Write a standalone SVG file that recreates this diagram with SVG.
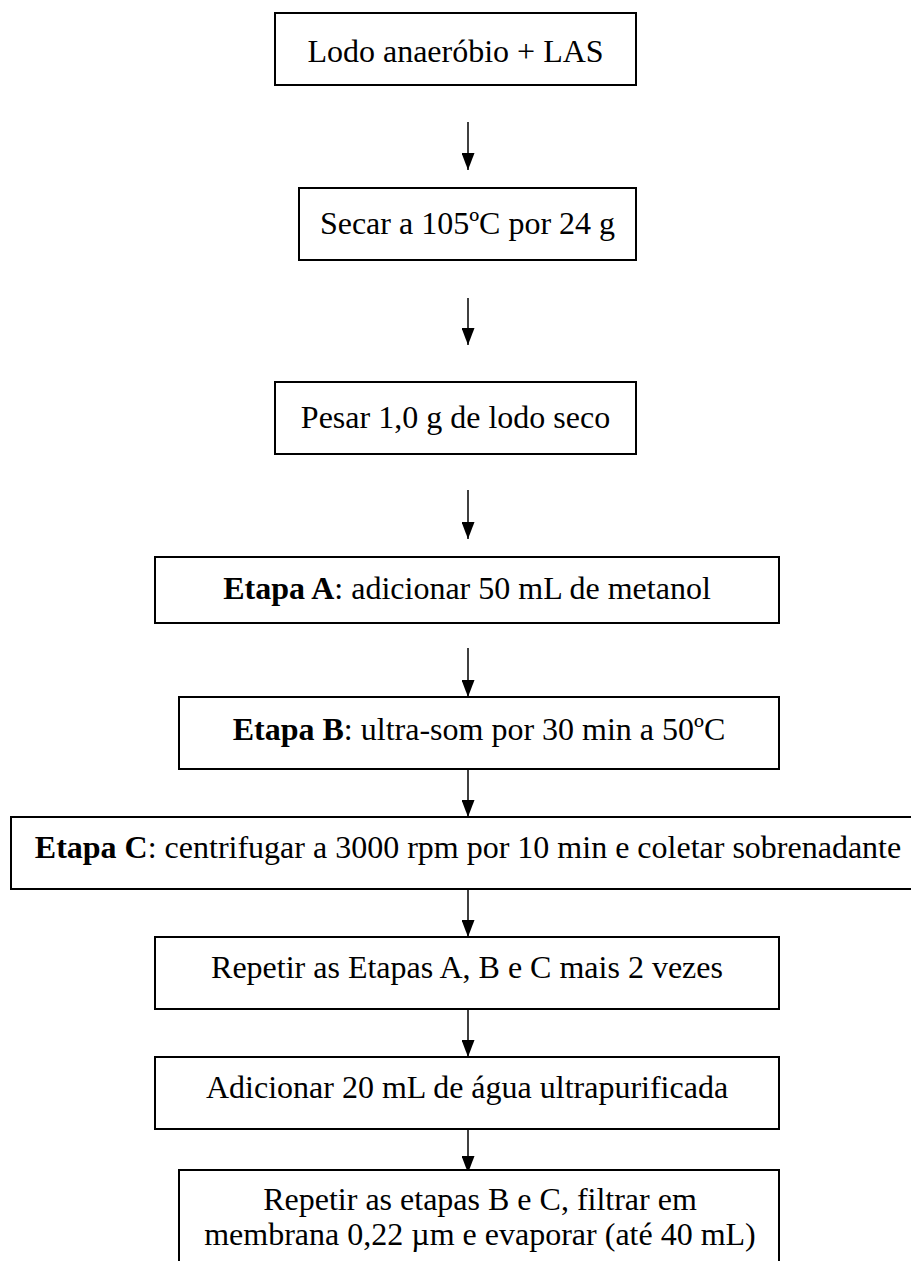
<svg xmlns="http://www.w3.org/2000/svg" width="911" height="1261" viewBox="0 0 911 1261">
  <style>
    .box { fill: #ffffff; stroke: #000000; stroke-width: 2; }
    .lbl { font-family: "Liberation Serif", "Times New Roman", serif; font-size: 32px; fill: #000000; text-anchor: middle; }
    .b { font-weight: bold; }
    .edge { stroke: #000000; stroke-width: 1.5; fill: none; marker-end: url(#head); }
  </style>
  <defs>
    <!-- solid triangular arrowhead, 13 wide and 17 long -->
    <marker id="head" markerUnits="userSpaceOnUse" markerWidth="17" markerHeight="13" viewBox="0 0 17 13" refX="17" refY="6.5" orient="auto">
      <path d="M0,0 L17,6.5 L0,13 Z" fill="#000000"/>
    </marker>
  </defs>
  <rect width="911" height="1261" fill="#ffffff"/>

  <!-- vertical flow connectors -->
  <g id="connectors">
    <line class="edge" x1="468" y1="122" x2="468" y2="170"/>
    <line class="edge" x1="468" y1="298" x2="468" y2="345"/>
    <line class="edge" x1="468" y1="490" x2="468" y2="539"/>
    <line class="edge" x1="468" y1="648" x2="468" y2="697"/>
    <line class="edge" x1="468" y1="769" x2="468" y2="817"/>
    <line class="edge" x1="468" y1="889" x2="468" y2="937"/>
    <line class="edge" x1="468" y1="1009" x2="468" y2="1057"/>
    <line class="edge" x1="468" y1="1129" x2="468" y2="1173"/>
  </g>

  <g id="n1">
    <rect class="box" x="275" y="13" width="361" height="72"/>
    <text class="lbl" x="455.5" y="62">Lodo anaeróbio + LAS</text>
  </g>
  <g id="n2">
    <rect class="box" x="299" y="188" width="337" height="72"/>
    <text class="lbl" x="467.5" y="234">Secar a 105ºC por 24 g</text>
  </g>
  <g id="n3">
    <rect class="box" x="275" y="382" width="361" height="72"/>
    <text class="lbl" x="455.5" y="428">Pesar 1,0 g de lodo seco</text>
  </g>
  <g id="n4">
    <rect class="box" x="155" y="557" width="624" height="66"/>
    <text class="lbl" x="467" y="599"><tspan class="b">Etapa A</tspan>: adicionar 50 mL de metanol</text>
  </g>
  <g id="n5">
    <rect class="box" x="179" y="697" width="600" height="72"/>
    <text class="lbl" x="479" y="740"><tspan class="b">Etapa B</tspan>: ultra-som por 30 min a 50ºC</text>
  </g>
  <g id="n6">
    <rect class="box" x="11" y="817" width="914" height="72"/>
    <text class="lbl" x="468" y="858"><tspan class="b">Etapa C</tspan>: centrifugar a 3000 rpm por 10 min e coletar sobrenadante</text>
  </g>
  <g id="n7">
    <rect class="box" x="155" y="937" width="624" height="72"/>
    <text class="lbl" x="467" y="978">Repetir as Etapas A, B e C mais 2 vezes</text>
  </g>
  <g id="n8">
    <rect class="box" x="155" y="1057" width="624" height="72"/>
    <text class="lbl" x="467" y="1098">Adicionar 20 mL de água ultrapurificada</text>
  </g>
  <g id="n9">
    <rect class="box" x="179" y="1170" width="600" height="110"/>
    <text class="lbl" x="480" y="1210">Repetir as etapas B e C, filtrar em</text>
    <text class="lbl" x="480" y="1245">membrana 0,22 µm e evaporar (até 40 mL)</text>
  </g>
</svg>
